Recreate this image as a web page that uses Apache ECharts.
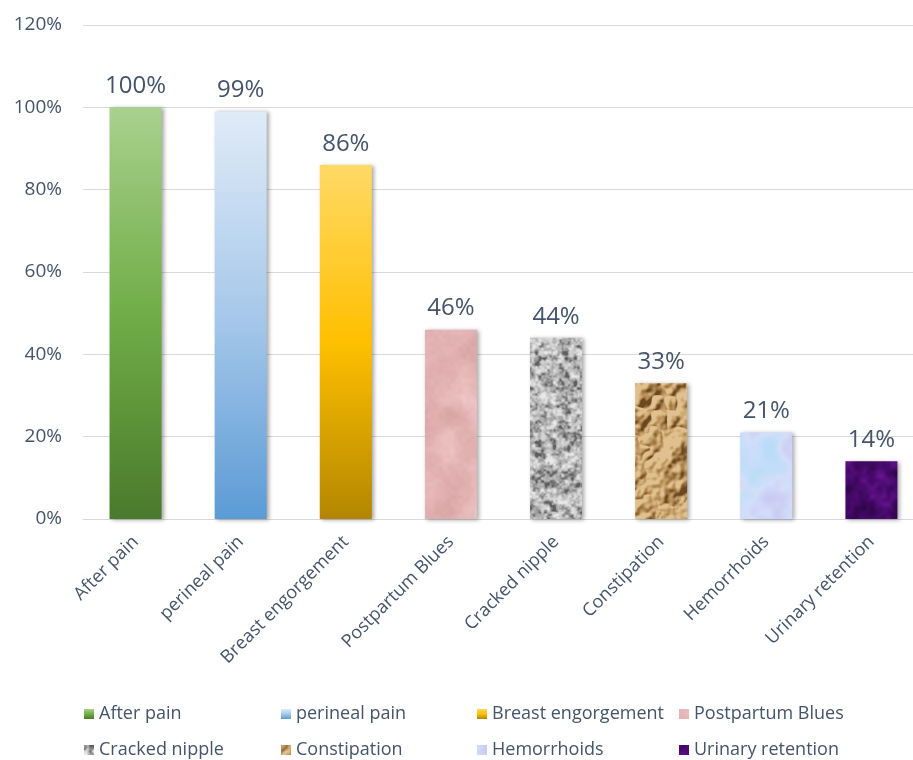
<!DOCTYPE html>
<html>
<head>
<meta charset="utf-8">
<script src="https://cdn.jsdelivr.net/npm/echarts@6/dist/echarts.min.js"></script>
<style>
  html, body { margin: 0; padding: 0; background: #ffffff; }
  #chart { width: 913px; height: 760px; }
</style>
</head>
<body>
<div id="chart"></div>
<script>
// Postpartum complaints, share of women reporting each (%)
const categories = ['After pain', 'perineal pain', 'Breast engorgement', 'Postpartum Blues',
                    'Cracked nipple', 'Constipation', 'Hemorrhoids', 'Urinary retention'];
const values = [100, 99, 86, 46, 44, 33, 21, 14];
const yTicks = [0, 20, 40, 60, 80, 100, 120];

const TEXT = '#44546A';
const FONT = '"Open Sans", "Noto Sans", sans-serif';

// ---- procedural fill textures (deterministic, tileable value noise) ----
function seeded(seed) {
  return function () {
    seed = (seed + 0x6D2B79F5) | 0;
    let t = Math.imul(seed ^ (seed >>> 15), 1 | seed);
    t = (t + Math.imul(t ^ (t >>> 7), 61 | t)) ^ t;
    return ((t ^ (t >>> 14)) >>> 0) / 4294967296;
  };
}
function noiseLayer(size, cell, rnd) {
  const g = Math.round(size / cell);
  const grid = new Float32Array(g * g);
  for (let i = 0; i < grid.length; i++) grid[i] = rnd();
  const out = new Float32Array(size * size);
  const sm = t => t * t * (3 - 2 * t);
  for (let y = 0; y < size; y++) {
    const gy = y / cell, y0 = Math.floor(gy), fy = sm(gy - y0);
    const ya = y0 % g, yb = (y0 + 1) % g;
    for (let x = 0; x < size; x++) {
      const gx = x / cell, x0 = Math.floor(gx), fx = sm(gx - x0);
      const xa = x0 % g, xb = (x0 + 1) % g;
      const a = grid[ya * g + xa], b = grid[ya * g + xb];
      const c = grid[yb * g + xa], d = grid[yb * g + xb];
      out[y * size + x] = (a + (b - a) * fx) * (1 - fy) + (c + (d - c) * fx) * fy;
    }
  }
  return out;
}
function hex(c) { return [parseInt(c.slice(1, 3), 16), parseInt(c.slice(3, 5), 16), parseInt(c.slice(5, 7), 16)]; }
function texture(opts) {
  const size = 256;
  const rnd = seeded(opts.seed);
  const layers = opts.cells.map(c => noiseLayer(size, c, rnd));
  const weights = opts.weights;
  const stops = opts.stops.map(hex);
  const wsum = weights.reduce((a, b) => a + b, 0);
  const h = new Float32Array(size * size);
  for (let i = 0; i < size * size; i++) {
    let n = 0;
    for (let k = 0; k < layers.length; k++) n += layers[k][i] * weights[k];
    n /= wsum;
    if (opts.ridge) n = 1 - Math.abs(n - 0.5) * 2;
    h[i] = n;
  }
  const cv = document.createElement('canvas');
  cv.width = size; cv.height = size;
  const ctx = cv.getContext('2d');
  const img = ctx.createImageData(size, size);
  for (let y = 0; y < size; y++) {
    for (let x = 0; x < size; x++) {
      const i = y * size + x;
      let n = h[i];
      if (opts.emboss) {
        // light from the upper left: slope of the height field
        const a = h[((y + size - 1) % size) * size + (x + size - 1) % size];
        const b = h[((y + 1) % size) * size + (x + 1) % size];
        n = 0.5 + (a - b) * opts.emboss + (h[i] - 0.5) * 0.5;
      }
      n = Math.min(1, Math.max(0, (n - 0.5) * opts.contrast + 0.5));
      const p = n * (stops.length - 1);
      const j = Math.min(stops.length - 2, Math.floor(p));
      const f = p - j;
      const A = stops[j], B = stops[j + 1];
      img.data[i * 4] = A[0] + (B[0] - A[0]) * f;
      img.data[i * 4 + 1] = A[1] + (B[1] - A[1]) * f;
      img.data[i * 4 + 2] = A[2] + (B[2] - A[2]) * f;
      img.data[i * 4 + 3] = 255;
    }
  }
  ctx.putImageData(img, 0, 0);
  return { image: cv, repeat: 'repeat' };
}
function vgrad(top, mid, bottom) {
  return new echarts.graphic.LinearGradient(0, 0, 0, 1, [
    { offset: 0, color: top }, { offset: 0.5, color: mid }, { offset: 1, color: bottom }
  ]);
}

const fills = [
  vgrad('#a9d18e', '#70ad47', '#4a7a2c'),
  vgrad('#e0ebf7', '#a7c8ea', '#5b9bd5'),
  vgrad('#ffd966', '#ffc000', '#b38600'),
  texture({ seed: 11, cells: [32, 16, 4], weights: [1, 0.6, 0.25], stops: ['#d9a5a5', '#e6b8b8', '#f0cbca'], contrast: 1.6 }),
  texture({ seed: 23, cells: [6, 3, 2], weights: [1, 0.8, 0.5], stops: ['#5e5e5e', '#a0a0a0', '#cacaca', '#e8e8e8'], contrast: 1.8 }),
  texture({ seed: 37, cells: [32, 16, 8, 4], weights: [1, 0.6, 0.35, 0.15], stops: ['#6a4820', '#a27a46', '#c6a068', '#dfc08e'], contrast: 1.1, ridge: true, emboss: 5 }),
  texture({ seed: 53, cells: [32, 16, 8], weights: [1, 0.7, 0.3], stops: ['#c7c6f2', '#d3def9', '#b9dcf8'], contrast: 1.8 }),
  texture({ seed: 71, cells: [16, 8, 4], weights: [1, 0.7, 0.4], stops: ['#2c0545', '#47096a', '#64148f'], contrast: 1.7 })
];

// one series per category, stacked so each bar sits centred on its category
const series = categories.map((name, i) => ({
  name: name,
  type: 'bar',
  stack: 'all',
  barWidth: 52,
  data: values.map((v, j) => (j === i ? v : '-')),
  itemStyle: {
    color: fills[i],
    shadowColor: 'rgba(0,0,0,0.35)',
    shadowBlur: 4,
    shadowOffsetX: 2,
    shadowOffsetY: 1
  },
  label: {
    show: true,
    position: 'top',
    distance: 9,
    formatter: '{c}%',
    color: TEXT,
    fontFamily: FONT,
    fontSize: 24
  }
}));

// legend laid out as a 4 x 2 table
const legendCols = [84, 281, 477, 679];
const legendRows = [705, 741];
const legends = categories.map((name, i) => ({
  data: [name],
  left: legendCols[i % 4],
  top: legendRows[Math.floor(i / 4)],
  itemWidth: 10,
  itemHeight: 10,
  icon: 'rect',
  padding: 0,
  selectedMode: false,
  textStyle: { color: TEXT, fontFamily: FONT, fontSize: 18 }
}));

const chart = echarts.init(document.getElementById('chart'), null, { renderer: 'canvas' });
chart.setOption({
  animation: false,
  backgroundColor: '#ffffff',
  grid: { left: 83, width: 841, top: 25, height: 494, containLabel: false, outerBoundsMode: 'none' },
  legend: legends,
  xAxis: {
    type: 'category',
    data: categories,
    axisTick: { show: false },
    axisLine: { lineStyle: { color: '#d9d9d9', width: 1 } },
    axisLabel: {
      rotate: 45,
      margin: 20,
      interval: 0,
      color: TEXT,
      fontFamily: FONT,
      fontSize: 18
    }
  },
  yAxis: {
    type: 'value',
    min: yTicks[0],
    max: yTicks[yTicks.length - 1],
    interval: yTicks[1] - yTicks[0],
    axisLine: { show: false },
    axisTick: { show: false },
    splitLine: { lineStyle: { color: '#d9d9d9', width: 1 } },
    axisLabel: {
      formatter: '{value}%',
      margin: 21,
      color: TEXT,
      fontFamily: FONT,
      fontSize: 19
    }
  },
  series: series
});
</script>
</body>
</html>
